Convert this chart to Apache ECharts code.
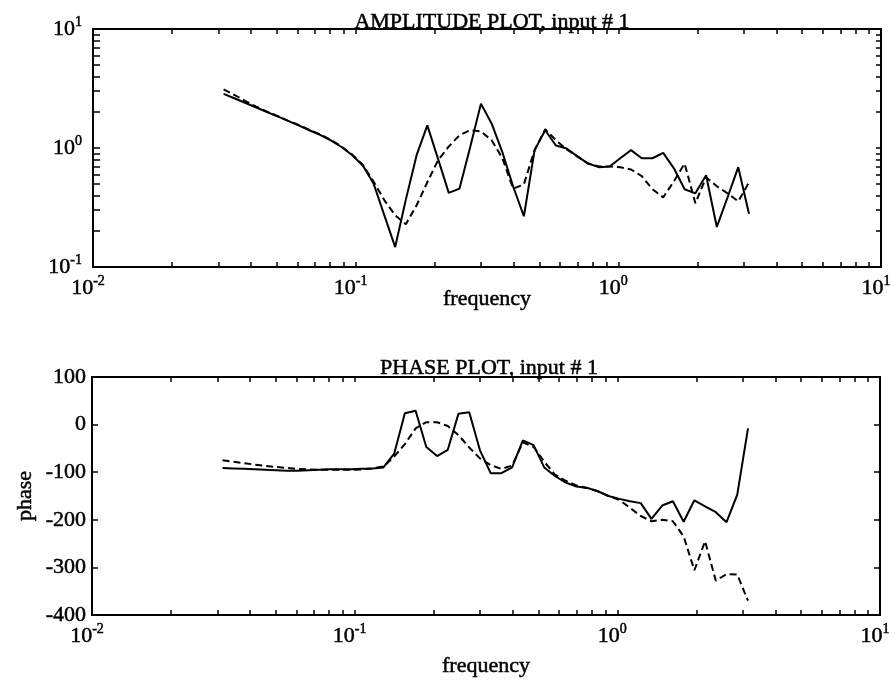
<!DOCTYPE html>
<html><head><meta charset="utf-8">
<script src="https://cdn.jsdelivr.net/npm/echarts@6/dist/echarts.min.js"></script>
<style>html,body{margin:0;padding:0;background:#fff}#c{width:895px;height:685px}</style>
</head><body><div id="c"></div>
<script>
// ---- data ----
const freq = [0.03142,0.03450,0.03791,0.04164,0.04575,0.05026,0.05521,0.06066,0.06664,0.07321,
  0.08043,0.08836,0.09707,0.1066,0.1171,0.1287,0.1414,0.1553,0.1706,0.1874,
  0.2059,0.2262,0.2485,0.2730,0.2999,0.3295,0.3620,0.3977,0.4369,0.4800,
  0.5267,0.5787,0.6358,0.6984,0.7673,0.8429,0.9260,1.0172,1.1175,1.2277,
  1.3487,1.4817,1.6278,1.7883,1.9646,2.1582,2.3711,2.6048,2.8616,3.1437];
const ampSolid = [2.85,2.62,2.40,2.20,2.01,1.85,1.69,1.55,1.41,1.29,
  1.16,1.02,0.87,0.71,0.50,0.27,0.147,0.37,0.87,1.55,
  0.81,0.42,0.456,1.02,2.36,1.60,0.92,0.475,0.267,0.96,
  1.41,1.05,0.99,0.85,0.74,0.69,0.70,0.82,0.96,0.82,
  0.82,0.91,0.675,0.45,0.416,0.59,0.217,0.385,0.69,0.28];
const ampDashed = [3.11,2.80,2.49,2.24,2.03,1.86,1.70,1.56,1.42,1.30,
  1.17,1.03,0.88,0.72,0.52,0.363,0.272,0.229,0.33,0.515,
  0.79,1.03,1.28,1.41,1.38,1.16,0.82,0.455,0.495,0.96,
  1.44,1.16,0.975,0.85,0.74,0.70,0.70,0.69,0.66,0.58,
  0.45,0.385,0.525,0.74,0.343,0.567,0.477,0.416,0.356,0.515];
const phaseSolid = [-91,-92,-93,-94,-95,-96,-97,-97,-96,-95,
  -94,-94,-94,-93,-92,-90,-61,24,29,-47,
  -66,-53,23,26,-54,-102,-102,-90,-33,-43,
  -90,-108,-122,-130,-133,-140,-150,-156,-161,-165,
  -198,-170,-161,-204,-159,-172,-184,-205,-147,-8];
const phaseDashed = [-75,-78,-81,-84,-87,-89,-91,-93,-94,-95,
  -95,-95,-95,-94,-92,-88,-67,-41,-8,5,
  5,-3,-22,-48,-71,-85,-93,-86,-37,-47,
  -78,-105,-118,-128,-133,-140,-150,-158,-175,-192,
  -203,-200,-203,-235,-306,-245,-328,-314,-315,-370];

// ---- axes / tick labels ----
const freqDecades = [0.01, 0.1, 1, 10];
const freqDecadeExp = ['-2', '-1', '0', '1'];
const ampDecades = [0.1, 1, 10];
const ampDecadeExp = ['-1', '0', '1'];
const freqTicks = [0.02,0.03,0.04,0.05,0.06,0.07,0.08,0.09,0.1,
  0.2,0.3,0.4,0.5,0.6,0.7,0.8,0.9,1,2,3,4,5,6,7,8,9];
const ampTicks = [0.2,0.3,0.4,0.5,0.6,0.7,0.8,0.9,1,2,3,4,5,6,7,8,9];
const titles = ['AMPLITUDE PLOT, input # 1', 'PHASE PLOT, input # 1'];
const xName = 'frequency';
const phaseName = 'phase';

const FONT = '"Liberation Serif", "Times New Roman", serif';
const INK = '#000';
const BOLDEN = { textBorderColor: INK, textBorderWidth: 0.5 };

function expFormatter(decades, exps) {
  return function (v) {
    let i = 0, best = 1e9;
    decades.forEach((d, k) => { const e = Math.abs(Math.log10(d) - Math.log10(v)); if (e < best) { best = e; i = k; } });
    return '{b|10}{s|' + exps[i] + '}';
  };
}
const rich = {
  b: Object.assign({ fontFamily: FONT, fontSize: 22, color: INK }, BOLDEN),
  s: Object.assign({ fontFamily: FONT, fontSize: 14, color: INK, padding: [0, 0, 14, 0] }, BOLDEN)
};
const lineAx = { show: true, onZero: false, lineStyle: { color: INK, width: 2 } };
const tickSty = { color: INK, width: 1.5 };
const nameSty = Object.assign({ fontFamily: FONT, fontSize: 22, color: INK }, BOLDEN);

function logX(gi, pos, labels, name, gap) {
  return {
    type: 'log', logBase: 10, gridIndex: gi, position: pos, min: 0.01, max: 10,
    axisLine: lineAx,
    axisTick: { show: true, inside: true, length: 5, lineStyle: tickSty, customValues: freqTicks },
    axisLabel: labels ? { show: true, margin: 7, customValues: freqDecades, padding: [0, 10, 0, 0],
      formatter: expFormatter(freqDecades, freqDecadeExp), rich: rich } : { show: false },
    splitLine: { show: false }, minorTick: { show: false },
    name: name || '', nameLocation: 'middle', nameGap: gap || 0, nameMoveOverlap: false,
    nameTextStyle: nameSty
  };
}
function logY(pos, labels) {
  return {
    type: 'log', logBase: 10, gridIndex: 0, position: pos, min: 0.1, max: 10,
    axisLine: lineAx,
    axisTick: { show: true, inside: true, length: pos === 'left' ? 7 : 5, lineStyle: tickSty, customValues: ampTicks },
    axisLabel: labels ? { show: true, margin: 11, customValues: ampDecades,
      formatter: expFormatter(ampDecades, ampDecadeExp), rich: rich } : { show: false },
    splitLine: { show: false }, minorTick: { show: false }
  };
}
function phaseY(pos, labels) {
  return {
    type: 'value', gridIndex: 1, position: pos, min: -400, max: 100, interval: 100,
    axisLine: lineAx,
    axisTick: { show: true, inside: true, length: 6, lineStyle: tickSty },
    axisLabel: labels ? Object.assign({ show: true, margin: 6, fontFamily: FONT, fontSize: 22, color: INK }, BOLDEN) : { show: false },
    splitLine: { show: false },
    name: labels ? phaseName : '', nameLocation: 'middle', nameGap: 56, nameRotate: 90, nameMoveOverlap: false,
    nameTextStyle: nameSty
  };
}

const chart = echarts.init(document.getElementById('c'), null, { renderer: 'canvas' });
const solid = { color: INK, width: 2, type: 'solid' };
const dashed = { color: INK, width: 2, type: [7, 4] };
const titleSty = Object.assign({ fontFamily: FONT, fontSize: 22, fontWeight: 'normal', color: INK }, BOLDEN);
chart.setOption({
  animation: false,
  backgroundColor: '#fff',
  title: [
    { text: titles[0], left: 487, top: 6, textAlign: 'center', textStyle: titleSty },
    { text: titles[1], left: 484, top: 352, textAlign: 'center', textStyle: titleSty }
  ],
  grid: [
    { left: 93, top: 29, width: 788, height: 238, containLabel: false, outerBoundsMode: 'none' },
    { left: 92, top: 377, width: 788, height: 238, containLabel: false, outerBoundsMode: 'none' }
  ],
  xAxis: [
    logX(0, 'bottom', true, xName, 21),
    logX(0, 'top', false),
    logX(1, 'bottom', true, xName, 40),
    logX(1, 'top', false)
  ],
  yAxis: [
    logY('left', true),
    logY('right', false),
    phaseY('left', true),
    phaseY('right', false)
  ],
  series: [
    { type: 'line', xAxisIndex: 0, yAxisIndex: 0, showSymbol: false, lineStyle: solid,
      data: freq.map((f, i) => [f, ampSolid[i]]) },
    { type: 'line', xAxisIndex: 0, yAxisIndex: 0, showSymbol: false, lineStyle: dashed,
      data: freq.map((f, i) => [f, ampDashed[i]]) },
    { type: 'line', xAxisIndex: 2, yAxisIndex: 2, showSymbol: false, lineStyle: solid,
      data: freq.map((f, i) => [f, phaseSolid[i]]) },
    { type: 'line', xAxisIndex: 2, yAxisIndex: 2, showSymbol: false, lineStyle: dashed,
      data: freq.map((f, i) => [f, phaseDashed[i]]) }
  ]
});
</script></body></html>
